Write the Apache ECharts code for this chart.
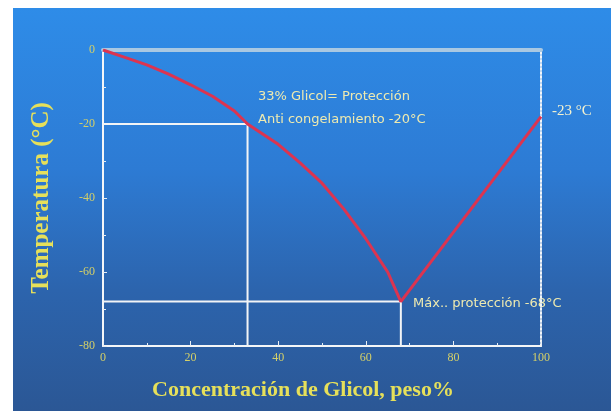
<!DOCTYPE html>
<html>
<head>
<meta charset="utf-8">
<script src="https://cdn.jsdelivr.net/npm/echarts@6/dist/echarts.min.js"></script>
<style>
  html, body { margin: 0; padding: 0; background: #fff; }
  #chart { width: 611px; height: 411px; }
</style>
</head>
<body>
<div id="chart"></div>
<script>
// freezing curve (concentration %, temperature °C)
const concentration = [0, 5, 10, 15, 20, 25, 30, 33, 40, 45, 50, 55, 60, 65, 68, 100]
const temperature = [0, -2, -4, -6.5, -9.4, -12.5, -16.5, -20, -25.5, -30.5, -36, -43, -51, -60, -68, -18]

// white guide lines
const guide33 = [[0, -20], [33, -20], [33, -81]]
const guide68 = [[-1, -68], [68, -68], [68, -81]]

const xTicks = [0, 20, 40, 60, 80, 100]
const yTicks = [0, -20, -40, -60, -80]

const chart = echarts.init(document.getElementById('chart'))

const labelStyle = {
  color: '#d4d068',
  fontFamily: 'Liberation Serif',
  fontSize: 12
}
const noteFont = '13px "DejaVu Sans"'

chart.setOption({
  backgroundColor: '#ffffff',
  animation: false,
  graphic: [
    {
      type: 'rect',
      z: -10,
      shape: { x: 13, y: 8, width: 598, height: 403 },
      style: {
        fill: new echarts.graphic.LinearGradient(0, 0, 0, 1, [
          { offset: 0, color: '#2e8ce8' },
          { offset: 0.4, color: '#2d7bd4' },
          { offset: 0.7, color: '#2c64ad' },
          { offset: 1, color: '#2b5795' }
        ])
      }
    },
    {
      type: 'text',
      left: 258, top: 90,
      style: { text: '33% Glicol= Protección', fill: '#eeeab0', font: noteFont }
    },
    {
      type: 'text',
      left: 258, top: 113,
      style: { text: 'Anti congelamiento -20°C', fill: '#eeeab0', font: noteFont }
    },
    {
      type: 'text',
      left: 413, top: 297,
      style: { text: 'Máx.. protección -68°C', fill: '#eeeab0', font: noteFont }
    },
    {
      type: 'text',
      left: 552, top: 104,
      style: { text: '-23 °C', fill: '#f4f2d0', font: '15px "Liberation Serif"' }
    }
  ],
  grid: { left: 103, right: 70, top: 50, bottom: 65 },
  xAxis: [
    {
      type: 'value', min: 0, max: 100, interval: 20,
      name: 'Concentración de Glicol, peso%',
      nameLocation: 'middle', nameGap: 33,
      nameTextStyle: {
        color: '#e6e05a', fontFamily: 'Liberation Serif', fontWeight: 'bold', fontSize: 22,
        padding: [0, 38, 0, 0]
      },
      axisLine: { show: true, onZero: false, lineStyle: { color: '#f4f6f8', width: 2 } },
      axisTick: { inside: true, length: 5, lineStyle: { color: '#e8eef4' } },
      minorTick: { show: true, splitNumber: 2, length: 3, lineStyle: { color: '#e8eef4' } },
      axisLabel: Object.assign({ margin: 6, formatter: v => xTicks.includes(v) ? String(v) : '' }, labelStyle),
      splitLine: { show: false }
    },
    {
      type: 'value', min: 0, max: 100, position: 'top',
      axisLine: { show: true, onZero: false, lineStyle: { color: '#a9c8e2', width: 4 } },
      axisTick: { show: false },
      axisLabel: { show: false },
      splitLine: { show: false }
    }
  ],
  yAxis: [
    {
      type: 'value', min: -80, max: 0, interval: 20,
      name: 'Temperatura (°C)',
      nameLocation: 'middle', nameGap: 49, nameRotate: 90,
      nameTextStyle: { color: '#e6e05a', fontFamily: 'Liberation Serif', fontWeight: 'bold', fontSize: 25 },
      axisLine: { show: true, onZero: false, lineStyle: { color: '#f4f6f8', width: 2 } },
      axisTick: { inside: true, length: 4, lineStyle: { color: '#e8eef4' } },
      minorTick: { show: true, splitNumber: 2, length: 3, lineStyle: { color: '#e8eef4' } },
      axisLabel: Object.assign({ margin: 8, formatter: v => yTicks.includes(v) ? String(v) : '' }, labelStyle),
      splitLine: { show: false }
    },
    {
      type: 'value', min: -80, max: 0, position: 'right',
      axisLine: { show: true, onZero: false, lineStyle: { color: '#f0f4f8', width: 2, type: [2, 2] } },
      axisTick: { show: false },
      axisLabel: { show: false },
      splitLine: { show: false }
    }
  ],
  series: [
    {
      type: 'line',
      data: guide33,
      symbol: 'none',
      lineStyle: { color: '#f2f4f6', width: 2 },
      z: 2
    },
    {
      type: 'line',
      data: guide68,
      symbol: 'none',
      lineStyle: { color: '#f2f4f6', width: 2 },
      z: 2
    },
    {
      type: 'line',
      data: concentration.map((c, i) => [c, temperature[i]]),
      symbol: 'none',
      smooth: false,
      lineStyle: { color: '#dc3450', width: 3 },
      z: 3
    }
  ]
})
</script>
</body>
</html>
